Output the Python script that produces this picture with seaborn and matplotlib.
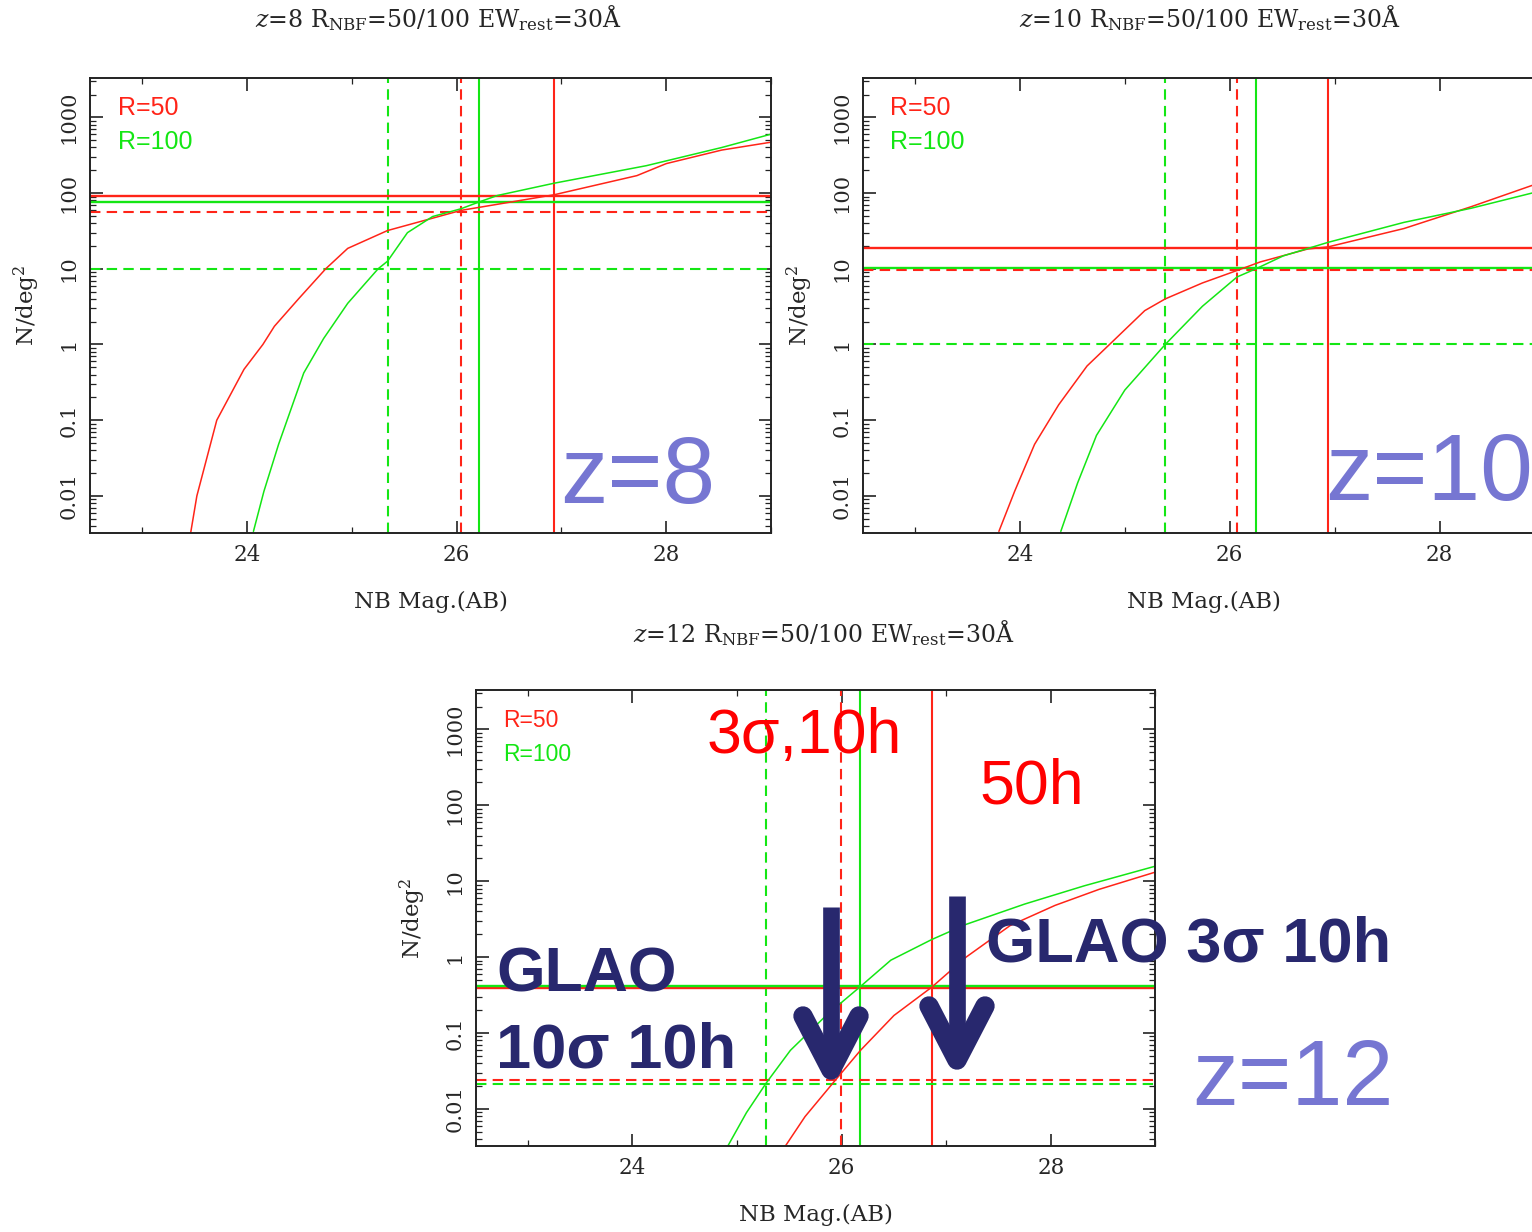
import numpy as np
import pandas as pd
import matplotlib
matplotlib.use("Agg")
import matplotlib.pyplot as plt
from matplotlib.lines import Line2D
from matplotlib.ticker import LogLocator, FixedLocator, FixedFormatter, MultipleLocator, NullFormatter
import seaborn as sns

# ---------------- data ----------------
# z = 8
z8_r50_mag = [23.46, 23.52, 23.71, 23.97, 24.15, 24.26, 24.49, 24.75, 24.96, 25.34, 26.04, 26.93, 27.72, 28.00, 28.53, 29.00]
z8_r50_N   = [0.0032, 0.010, 0.10, 0.47, 1.0, 1.74, 4.0, 10.0, 18.6, 32.0, 59.0, 95.0, 170.0, 245.0, 370.0, 470.0]
z8_r100_mag = [24.06, 24.16, 24.30, 24.54, 24.73, 24.96, 25.25, 25.34, 25.53, 25.77, 26.04, 26.21, 26.39, 26.93, 27.81, 28.53, 29.00]
z8_r100_N   = [0.0034, 0.0115, 0.048, 0.42, 1.2, 3.5, 10.0, 12.6, 30.0, 49.0, 62.0, 76.0, 93.0, 135.0, 230.0, 400.0, 600.0]
z8_vlines = [25.34, 26.04, 26.21, 26.93]          # green dashed, red dashed, green solid, red solid
z8_hlines = [92.0, 76.0, 57.0, 10.0]              # red solid, green solid, red dashed, green dashed

# z = 10
z10_r50_mag = [23.80, 23.95, 24.14, 24.37, 24.64, 24.87, 25.19, 25.385, 25.74, 26.07, 26.29, 26.74, 26.94, 27.66, 28.30, 28.88, 29.00]
z10_r50_N   = [0.0034, 0.0115, 0.048, 0.16, 0.52, 1.05, 2.8, 4.0, 6.5, 9.5, 12.3, 18.2, 19.5, 34.0, 66.0, 126.0, 141.0]
z10_r100_mag = [24.39, 24.55, 24.73, 25.00, 25.385, 25.74, 26.07, 26.25, 26.51, 26.94, 27.66, 28.30, 28.88, 29.00]
z10_r100_N   = [0.0034, 0.0148, 0.063, 0.25, 1.0, 3.2, 7.8, 10.0, 14.8, 22.4, 41.0, 63.0, 100.0, 110.0]
z10_vlines = [25.385, 26.07, 26.25, 26.94]
z10_hlines = [18.6, 10.1, 9.6, 1.0]

# z = 12
z12_r50_mag = [25.46, 25.65, 25.93, 26.18, 26.50, 26.86, 27.19, 27.61, 28.04, 28.46, 29.00]
z12_r50_N   = [0.0032, 0.0079, 0.023, 0.059, 0.17, 0.40, 1.0, 2.6, 4.8, 7.8, 13.2]
z12_r100_mag = [24.91, 25.09, 25.28, 25.51, 25.86, 26.18, 26.47, 26.86, 27.19, 27.75, 28.32, 29.00]
z12_r100_N   = [0.0032, 0.0089, 0.022, 0.059, 0.174, 0.41, 0.91, 1.7, 2.7, 5.0, 8.7, 15.8]
z12_vlines = [25.28, 25.99, 26.18, 26.86]
z12_hlines = [0.39, 0.41, 0.024, 0.021]

redshifts = ["8", "10", "12"]
xticks_major = [24, 26, 28]
ytick_vals = [0.01, 0.1, 1, 10, 100, 1000]
ytick_labels = ["0.01", "0.1", "1", "10", "100", "1000"]

# ---------------- style ----------------
sns.set_style("ticks")
plt.rcParams["font.family"] = ["DejaVu Serif"]
plt.rcParams["mathtext.fontset"] = "dejavuserif"

RED = "#ff2418"
GREEN = "#14e614"
NAVY = "#28286e"
SLATE = "#7676d2"

W, H = 1532, 1232
fig = plt.figure(figsize=(W / 100, H / 100), dpi=100)

def px_axes(left, top, right, bottom):
    return fig.add_axes([left / W, 1 - bottom / H, (right - left) / W, (bottom - top) / H])

ax1 = px_axes(90, 78, 771, 533)
ax2 = px_axes(862.5, 78, 1544.5, 533)
ax3 = px_axes(475.5, 690, 1155.5, 1146)

panels = [
    (ax1, z8_r50_mag, z8_r50_N, z8_r100_mag, z8_r100_N, z8_vlines, z8_hlines),
    (ax2, z10_r50_mag, z10_r50_N, z10_r100_mag, z10_r100_N, z10_vlines, z10_hlines),
    (ax3, z12_r50_mag, z12_r50_N, z12_r100_mag, z12_r100_N, z12_vlines, z12_hlines),
]

title_x = [0.511, 0.5095, 0.5125]
title_y = [1.112, 1.112, 1.106]

for i, (ax, rm, rn, gm, gn, vl, hl) in enumerate(panels):
    ax.set_yscale("log")
    # reference lines
    ax.axvline(vl[0], color=GREEN, lw=1.5, ls=(0, (5, 3)))
    ax.axvline(vl[1], color=RED, lw=1.5, ls=(0, (5, 3)))
    ax.axvline(vl[2], color=GREEN, lw=1.5)
    ax.axvline(vl[3], color=RED, lw=1.5)
    ax.axhline(hl[0], color=RED, lw=1.7)
    ax.axhline(hl[1], color=GREEN, lw=1.7)
    ax.axhline(hl[2], color=RED, lw=1.5, ls=(0, (5, 3)))
    ax.axhline(hl[3], color=GREEN, lw=1.5, ls=(0, (5, 3)))
    # curves
    sns.lineplot(x=rm, y=rn, ax=ax, color=RED, lw=1.1, sort=False, estimator=None)
    sns.lineplot(x=gm, y=gn, ax=ax, color=GREEN, lw=1.1, sort=False, estimator=None)

    ax.set_xlim(22.5, 29.0)
    ax.set_ylim(10 ** -2.49, 10 ** 3.52)
    ax.xaxis.set_major_locator(FixedLocator(xticks_major))
    ax.xaxis.set_minor_locator(MultipleLocator(1))
    ax.yaxis.set_major_locator(FixedLocator(ytick_vals))
    ax.yaxis.set_major_formatter(FixedFormatter(ytick_labels))
    ax.yaxis.set_minor_locator(LogLocator(base=10, subs=np.arange(2, 10)))
    ax.yaxis.set_minor_formatter(NullFormatter())
    ax.tick_params(which="both", direction="in", top=True, right=True, color="#222222")
    ax.tick_params(which="major", length=9, width=1.2)
    ax.tick_params(which="minor", length=4.5, width=0.9)
    ax.tick_params(axis="x", labelsize=15.5, pad=8)
    ax.tick_params(axis="y", labelsize=15, pad=8, labelrotation=90)
    for lab in ax.get_yticklabels():
        lab.set_va("center")
    for s in ax.spines.values():
        s.set_linewidth(1.4)
        s.set_color("#222222")
    ax.set_xlabel("NB Mag.(AB)", fontsize=16.5)
    ax.set_ylabel(r"N/deg$^2$", fontsize=16.5)
    ax.xaxis.set_label_coords(0.5, -0.128)
    ax.yaxis.set_label_coords(-0.07, 0.5)
    ax.text(title_x[i], title_y[i],
            r"$z$=" + redshifts[i] + r" R$_{\rm NBF}$=50/100 EW$_{\rm rest}$=30Å",
            transform=ax.transAxes, ha="center", va="baseline", fontsize=17)
    lsize = 18 if i < 2 else 16.5
    ax.text(0.041, 0.934, "R=50", transform=ax.transAxes, color=RED, fontsize=lsize,
            family="Liberation Sans", ha="left", va="center")
    ax.text(0.041, 0.859, "R=100", transform=ax.transAxes, color=GREEN, fontsize=lsize,
            family="Liberation Sans", ha="left", va="center")

# big redshift labels
def ftext(x, y, s, **kw):
    fig.text(x / W, 1 - y / H, s, **kw)

ftext(560, 503, "z=8", color=SLATE, fontsize=68, family="Liberation Sans", ha="left", va="baseline")
ftext(1325, 500, "z=10", color=SLATE, fontsize=68, family="Liberation Sans", ha="left", va="baseline")
ftext(1192, 1105, "z=12", color=SLATE, fontsize=66, family="Liberation Sans", ha="left", va="baseline")

# red annotations
ftext(707, 753, "3σ,10h", color="#ff0000", fontsize=45, family="Liberation Sans", ha="left", va="baseline")
ftext(979, 803, "50h", color="#ff0000", fontsize=45, family="Liberation Sans", ha="left", va="baseline")

# navy annotations
ftext(496, 992, "GLAO", color=NAVY, fontsize=45, family="Liberation Sans", weight="bold", ha="left", va="baseline")
ftext(496, 1068, "10σ 10h", color=NAVY, fontsize=45.5, family="Liberation Sans", weight="bold", ha="left", va="baseline")
ftext(986, 962, "GLAO 3σ 10h", color=NAVY, fontsize=45.5, family="Liberation Sans", weight="bold", ha="left", va="baseline")

# arrows (figure pixel coordinates)
def fline(xs, ys, lw, cap="round"):
    fig.add_artist(Line2D([x / W for x in xs], [1 - y / H for y in ys], color=NAVY,
                          lw=lw, solid_capstyle=cap, solid_joinstyle="round"))

fline([831, 831], [907, 1060], 12, cap="butt")
fline([803, 831, 859], [1016, 1070, 1016], 14)
fline([957, 957], [896, 1050], 12, cap="butt")
fline([929, 957, 985], [1006, 1060, 1006], 14)

fig.savefig("out.png", dpi=100)
